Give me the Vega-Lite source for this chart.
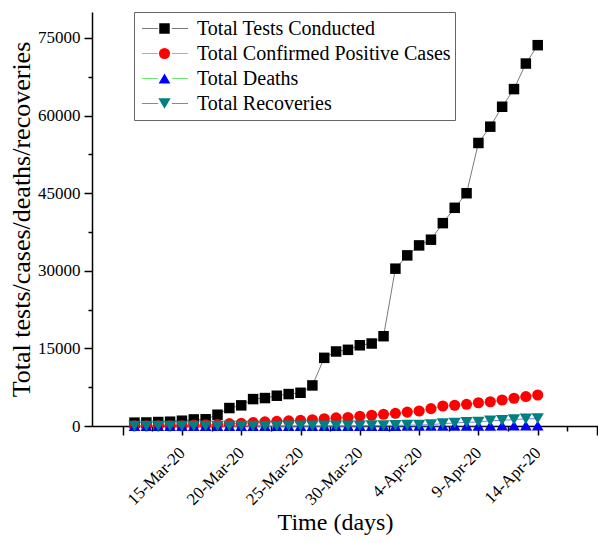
{
  "$schema": "https://vega.github.io/schema/vega-lite/v6.json",
  "width": 506,
  "height": 414,
  "autosize": {"type": "none"},
  "padding": {"left": 92, "top": 12, "right": 0, "bottom": 117},
  "background": "white",
  "config": {
    "view": {"stroke": null},
    "font": "Liberation Serif",
    "legend": {"labelFont": "Liberation Serif", "titleFont": "Liberation Serif"},
    "axis": {"grid": false, "domainColor": "black", "domainWidth": 1.5, "tickColor": "black", "tickWidth": 1.5, "labelColor": "black", "titleColor": "black", "labelFont": "Liberation Serif", "titleFont": "Liberation Serif", "titleFontWeight": "normal"}
  },
  "data": {"values": [
    {"date": "2020-03-11", "series": "Total Tests Conducted", "value": 650},
    {"date": "2020-03-12", "series": "Total Tests Conducted", "value": 680},
    {"date": "2020-03-13", "series": "Total Tests Conducted", "value": 770},
    {"date": "2020-03-14", "series": "Total Tests Conducted", "value": 830},
    {"date": "2020-03-15", "series": "Total Tests Conducted", "value": 1020},
    {"date": "2020-03-16", "series": "Total Tests Conducted", "value": 1270},
    {"date": "2020-03-17", "series": "Total Tests Conducted", "value": 1300},
    {"date": "2020-03-18", "series": "Total Tests Conducted", "value": 2180},
    {"date": "2020-03-19", "series": "Total Tests Conducted", "value": 3470},
    {"date": "2020-03-20", "series": "Total Tests Conducted", "value": 3990},
    {"date": "2020-03-21", "series": "Total Tests Conducted", "value": 5200},
    {"date": "2020-03-22", "series": "Total Tests Conducted", "value": 5400},
    {"date": "2020-03-23", "series": "Total Tests Conducted", "value": 5850},
    {"date": "2020-03-24", "series": "Total Tests Conducted", "value": 6170},
    {"date": "2020-03-25", "series": "Total Tests Conducted", "value": 6420},
    {"date": "2020-03-26", "series": "Total Tests Conducted", "value": 7840},
    {"date": "2020-03-27", "series": "Total Tests Conducted", "value": 13170},
    {"date": "2020-03-28", "series": "Total Tests Conducted", "value": 14400},
    {"date": "2020-03-29", "series": "Total Tests Conducted", "value": 14720},
    {"date": "2020-03-30", "series": "Total Tests Conducted", "value": 15600},
    {"date": "2020-03-31", "series": "Total Tests Conducted", "value": 15940},
    {"date": "2020-04-01", "series": "Total Tests Conducted", "value": 17350},
    {"date": "2020-04-02", "series": "Total Tests Conducted", "value": 30400},
    {"date": "2020-04-03", "series": "Total Tests Conducted", "value": 32970},
    {"date": "2020-04-04", "series": "Total Tests Conducted", "value": 34900},
    {"date": "2020-04-05", "series": "Total Tests Conducted", "value": 36000},
    {"date": "2020-04-06", "series": "Total Tests Conducted", "value": 39200},
    {"date": "2020-04-07", "series": "Total Tests Conducted", "value": 42160},
    {"date": "2020-04-08", "series": "Total Tests Conducted", "value": 44980},
    {"date": "2020-04-09", "series": "Total Tests Conducted", "value": 54690},
    {"date": "2020-04-10", "series": "Total Tests Conducted", "value": 57840},
    {"date": "2020-04-11", "series": "Total Tests Conducted", "value": 61690},
    {"date": "2020-04-12", "series": "Total Tests Conducted", "value": 65100},
    {"date": "2020-04-13", "series": "Total Tests Conducted", "value": 70040},
    {"date": "2020-04-14", "series": "Total Tests Conducted", "value": 73590},
    {"date": "2020-03-11", "series": "Total Confirmed Positive Cases", "value": 20},
    {"date": "2020-03-12", "series": "Total Confirmed Positive Cases", "value": 21},
    {"date": "2020-03-13", "series": "Total Confirmed Positive Cases", "value": 28},
    {"date": "2020-03-14", "series": "Total Confirmed Positive Cases", "value": 31},
    {"date": "2020-03-15", "series": "Total Confirmed Positive Cases", "value": 53},
    {"date": "2020-03-16", "series": "Total Confirmed Positive Cases", "value": 187},
    {"date": "2020-03-17", "series": "Total Confirmed Positive Cases", "value": 236},
    {"date": "2020-03-18", "series": "Total Confirmed Positive Cases", "value": 302},
    {"date": "2020-03-19", "series": "Total Confirmed Positive Cases", "value": 454},
    {"date": "2020-03-20", "series": "Total Confirmed Positive Cases", "value": 520},
    {"date": "2020-03-21", "series": "Total Confirmed Positive Cases", "value": 660},
    {"date": "2020-03-22", "series": "Total Confirmed Positive Cases", "value": 790},
    {"date": "2020-03-23", "series": "Total Confirmed Positive Cases", "value": 900},
    {"date": "2020-03-24", "series": "Total Confirmed Positive Cases", "value": 1000},
    {"date": "2020-03-25", "series": "Total Confirmed Positive Cases", "value": 1080},
    {"date": "2020-03-26", "series": "Total Confirmed Positive Cases", "value": 1220},
    {"date": "2020-03-27", "series": "Total Confirmed Positive Cases", "value": 1400},
    {"date": "2020-03-28", "series": "Total Confirmed Positive Cases", "value": 1560},
    {"date": "2020-03-29", "series": "Total Confirmed Positive Cases", "value": 1650},
    {"date": "2020-03-30", "series": "Total Confirmed Positive Cases", "value": 1880},
    {"date": "2020-03-31", "series": "Total Confirmed Positive Cases", "value": 2070},
    {"date": "2020-04-01", "series": "Total Confirmed Positive Cases", "value": 2260},
    {"date": "2020-04-02", "series": "Total Confirmed Positive Cases", "value": 2450},
    {"date": "2020-04-03", "series": "Total Confirmed Positive Cases", "value": 2690},
    {"date": "2020-04-04", "series": "Total Confirmed Positive Cases", "value": 2890},
    {"date": "2020-04-05", "series": "Total Confirmed Positive Cases", "value": 3350},
    {"date": "2020-04-06", "series": "Total Confirmed Positive Cases", "value": 3860},
    {"date": "2020-04-07", "series": "Total Confirmed Positive Cases", "value": 4010},
    {"date": "2020-04-08", "series": "Total Confirmed Positive Cases", "value": 4190},
    {"date": "2020-04-09", "series": "Total Confirmed Positive Cases", "value": 4490},
    {"date": "2020-04-10", "series": "Total Confirmed Positive Cases", "value": 4690},
    {"date": "2020-04-11", "series": "Total Confirmed Positive Cases", "value": 5030},
    {"date": "2020-04-12", "series": "Total Confirmed Positive Cases", "value": 5360},
    {"date": "2020-04-13", "series": "Total Confirmed Positive Cases", "value": 5690},
    {"date": "2020-04-14", "series": "Total Confirmed Positive Cases", "value": 5985},
    {"date": "2020-03-11", "series": "Total Deaths", "value": 0},
    {"date": "2020-03-12", "series": "Total Deaths", "value": 0},
    {"date": "2020-03-13", "series": "Total Deaths", "value": 0},
    {"date": "2020-03-14", "series": "Total Deaths", "value": 0},
    {"date": "2020-03-15", "series": "Total Deaths", "value": 0},
    {"date": "2020-03-16", "series": "Total Deaths", "value": 0},
    {"date": "2020-03-17", "series": "Total Deaths", "value": 0},
    {"date": "2020-03-18", "series": "Total Deaths", "value": 2},
    {"date": "2020-03-19", "series": "Total Deaths", "value": 2},
    {"date": "2020-03-20", "series": "Total Deaths", "value": 3},
    {"date": "2020-03-21", "series": "Total Deaths", "value": 3},
    {"date": "2020-03-22", "series": "Total Deaths", "value": 5},
    {"date": "2020-03-23", "series": "Total Deaths", "value": 6},
    {"date": "2020-03-24", "series": "Total Deaths", "value": 7},
    {"date": "2020-03-25", "series": "Total Deaths", "value": 7},
    {"date": "2020-03-26", "series": "Total Deaths", "value": 9},
    {"date": "2020-03-27", "series": "Total Deaths", "value": 11},
    {"date": "2020-03-28", "series": "Total Deaths", "value": 12},
    {"date": "2020-03-29", "series": "Total Deaths", "value": 21},
    {"date": "2020-03-30", "series": "Total Deaths", "value": 26},
    {"date": "2020-03-31", "series": "Total Deaths", "value": 27},
    {"date": "2020-04-01", "series": "Total Deaths", "value": 31},
    {"date": "2020-04-02", "series": "Total Deaths", "value": 35},
    {"date": "2020-04-03", "series": "Total Deaths", "value": 40},
    {"date": "2020-04-04", "series": "Total Deaths", "value": 41},
    {"date": "2020-04-05", "series": "Total Deaths", "value": 50},
    {"date": "2020-04-06", "series": "Total Deaths", "value": 54},
    {"date": "2020-04-07", "series": "Total Deaths", "value": 57},
    {"date": "2020-04-08", "series": "Total Deaths", "value": 61},
    {"date": "2020-04-09", "series": "Total Deaths", "value": 65},
    {"date": "2020-04-10", "series": "Total Deaths", "value": 66},
    {"date": "2020-04-11", "series": "Total Deaths", "value": 86},
    {"date": "2020-04-12", "series": "Total Deaths", "value": 93},
    {"date": "2020-04-13", "series": "Total Deaths", "value": 96},
    {"date": "2020-04-14", "series": "Total Deaths", "value": 107},
    {"date": "2020-03-11", "series": "Total Recoveries", "value": 2},
    {"date": "2020-03-12", "series": "Total Recoveries", "value": 2},
    {"date": "2020-03-13", "series": "Total Recoveries", "value": 2},
    {"date": "2020-03-14", "series": "Total Recoveries", "value": 2},
    {"date": "2020-03-15", "series": "Total Recoveries", "value": 2},
    {"date": "2020-03-16", "series": "Total Recoveries", "value": 2},
    {"date": "2020-03-17", "series": "Total Recoveries", "value": 2},
    {"date": "2020-03-18", "series": "Total Recoveries", "value": 2},
    {"date": "2020-03-19", "series": "Total Recoveries", "value": 4},
    {"date": "2020-03-20", "series": "Total Recoveries", "value": 13},
    {"date": "2020-03-21", "series": "Total Recoveries", "value": 13},
    {"date": "2020-03-22", "series": "Total Recoveries", "value": 13},
    {"date": "2020-03-23", "series": "Total Recoveries", "value": 13},
    {"date": "2020-03-24", "series": "Total Recoveries", "value": 18},
    {"date": "2020-03-25", "series": "Total Recoveries", "value": 23},
    {"date": "2020-03-26", "series": "Total Recoveries", "value": 23},
    {"date": "2020-03-27", "series": "Total Recoveries", "value": 25},
    {"date": "2020-03-28", "series": "Total Recoveries", "value": 29},
    {"date": "2020-03-29", "series": "Total Recoveries", "value": 29},
    {"date": "2020-03-30", "series": "Total Recoveries", "value": 58},
    {"date": "2020-03-31", "series": "Total Recoveries", "value": 82},
    {"date": "2020-04-01", "series": "Total Recoveries", "value": 107},
    {"date": "2020-04-02", "series": "Total Recoveries", "value": 126},
    {"date": "2020-04-03", "series": "Total Recoveries", "value": 170},
    {"date": "2020-04-04", "series": "Total Recoveries", "value": 186},
    {"date": "2020-04-05", "series": "Total Recoveries", "value": 257},
    {"date": "2020-04-06", "series": "Total Recoveries", "value": 467},
    {"date": "2020-04-07", "series": "Total Recoveries", "value": 572},
    {"date": "2020-04-08", "series": "Total Recoveries", "value": 727},
    {"date": "2020-04-09", "series": "Total Recoveries", "value": 762},
    {"date": "2020-04-10", "series": "Total Recoveries", "value": 1026},
    {"date": "2020-04-11", "series": "Total Recoveries", "value": 1095},
    {"date": "2020-04-12", "series": "Total Recoveries", "value": 1243},
    {"date": "2020-04-13", "series": "Total Recoveries", "value": 1378},
    {"date": "2020-04-14", "series": "Total Recoveries", "value": 1446}
  ]},
  "encoding": {
    "x": {
      "field": "date", "type": "temporal",
      "scale": {"type": "utc", "domain": [{"year": 2020, "month": 3, "date": 7, "hours": 10, "utc": true}, {"year": 2020, "month": 4, "date": 19, "hours": 2, "utc": true}]},
      "axis": {
        "title": "Time (days)", "titleFontSize": 24, "titlePadding": 3, "titleX": 243,
        "values": [
          {"year": 2020, "month": 3, "date": 10, "utc": true},
          {"year": 2020, "month": 3, "date": 12, "hours": 12, "utc": true},
          {"year": 2020, "month": 3, "date": 15, "utc": true},
          {"year": 2020, "month": 3, "date": 17, "hours": 12, "utc": true},
          {"year": 2020, "month": 3, "date": 20, "utc": true},
          {"year": 2020, "month": 3, "date": 22, "hours": 12, "utc": true},
          {"year": 2020, "month": 3, "date": 25, "utc": true},
          {"year": 2020, "month": 3, "date": 27, "hours": 12, "utc": true},
          {"year": 2020, "month": 3, "date": 30, "utc": true},
          {"year": 2020, "month": 4, "date": 1, "hours": 12, "utc": true},
          {"year": 2020, "month": 4, "date": 4, "utc": true},
          {"year": 2020, "month": 4, "date": 6, "hours": 12, "utc": true},
          {"year": 2020, "month": 4, "date": 9, "utc": true},
          {"year": 2020, "month": 4, "date": 11, "hours": 12, "utc": true},
          {"year": 2020, "month": 4, "date": 14, "utc": true},
          {"year": 2020, "month": 4, "date": 16, "hours": 12, "utc": true},
          {"year": 2020, "month": 4, "date": 19, "utc": true}
        ],
        "labelExpr": "(utchours(datum.value) == 12 || utcFormat(datum.value, '%-d-%b') == '10-Mar' || utcFormat(datum.value, '%-d-%b') == '19-Apr') ? '' : utcFormat(datum.value, '%-d-%b-%y')",
        "labelAngle": -45, "labelAlign": "right", "labelBaseline": "middle",
        "labelFontSize": 17, "labelPadding": 15, "labelFlush": false, "labelOverlap": false, "labelBound": false,
        "tickSize": {"condition": {"test": "utchours(datum.value) == 12", "value": 5}, "value": 9}
      }
    },
    "y": {
      "field": "value", "type": "quantitative",
      "scale": {"domain": [0, 80000], "nice": false},
      "axis": {
        "title": "Total tests/cases/deaths/recoveries", "titleFontSize": 26, "titlePadding": 3,
        "values": [0, 7500, 15000, 22500, 30000, 37500, 45000, 52500, 60000, 67500, 75000],
        "format": "d",
        "labelExpr": "datum.value % 15000 == 0 ? datum.label : ''",
        "labelFontSize": 17, "labelPadding": 4,
        "tickSize": {"condition": {"test": "datum.value % 15000 != 0", "value": 4}, "value": 8}
      }
    }
  },
  "layer": [
    {
      "mark": {"type": "line", "strokeWidth": 1},
      "encoding": {
        "stroke": {
          "field": "series", "type": "nominal",
          "sort": ["Total Tests Conducted", "Total Confirmed Positive Cases", "Total Deaths", "Total Recoveries"],
          "scale": {"range": ["#7a7a7a", "#ff8a8a", "#6ee66e", "#7a7aff"]},
          "legend": {
            "orient": "none", "legendX": 42, "legendY": 0, "title": null,
            "padding": 4, "strokeColor": "#666666", "cornerRadius": 0,
            "clipHeight": 25, "rowPadding": 0,
            "symbolType": "M-1,0H-0.3M0.3,0H1", "symbolSize": 2116, "symbolStrokeWidth": 1.2, "symbolOffset": 3,
            "labelFont": "Liberation Serif", "labelFontSize": 20, "labelColor": "black", "labelOffset": 8, "labelLimit": 400
          }
        }
      }
    },
    {
      "mark": {"type": "point", "filled": true, "opacity": 1},
      "encoding": {
        "fill": {
          "field": "series", "type": "nominal",
          "scale": {"domain": ["Total Tests Conducted", "Total Confirmed Positive Cases", "Total Deaths", "Total Recoveries"], "range": ["black", "#ff0000", "#0000ff", "#008080"]},
          "legend": {
            "orient": "none", "legendX": 42, "legendY": 0, "title": null,
            "padding": 4, "clipHeight": 25, "rowPadding": 0, "symbolOffset": 16.5,
            "labelFont": "Liberation Serif", "labelFontSize": 20, "labelExpr": "''", "labelLimit": 400
          }
        },
        "shape": {
          "field": "series", "type": "nominal",
          "scale": {"domain": ["Total Tests Conducted", "Total Confirmed Positive Cases", "Total Deaths", "Total Recoveries"], "range": ["square", "circle", "triangle-up", "triangle-down"]}
        },
        "size": {
          "field": "series", "type": "nominal",
          "scale": {"domain": ["Total Tests Conducted", "Total Confirmed Positive Cases", "Total Deaths", "Total Recoveries"], "range": [110, 150, 110, 130]}
        }
      }
    }
  ]
}
